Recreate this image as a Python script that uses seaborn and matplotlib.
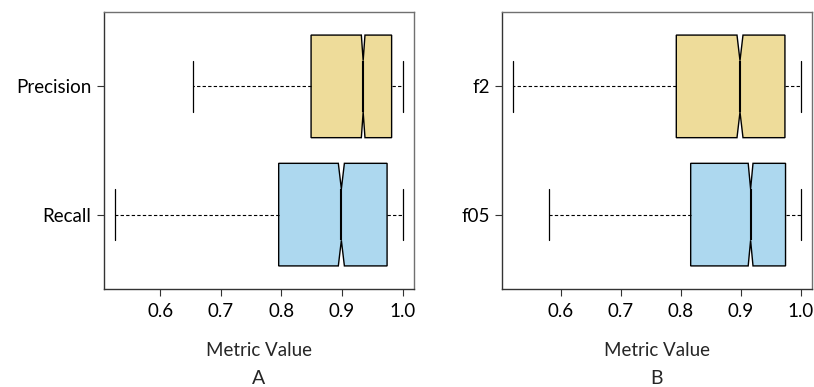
import matplotlib
matplotlib.use("Agg")
import matplotlib.pyplot as plt
import seaborn as sns

# Summary statistics of each metric (bottom box first, top box second)
panel_a_labels = ["Recall", "Precision"]
panel_a_whislo = [0.526, 0.654]
panel_a_q1 = [0.7955, 0.849]
panel_a_med = [0.899, 0.935]
panel_a_q3 = [0.9745, 0.982]
panel_a_whishi = [1.0, 1.0]
panel_a_notch = [0.005, 0.003]

panel_b_labels = ["f05", "f2"]
panel_b_whislo = [0.580, 0.521]
panel_b_q1 = [0.8167, 0.7927]
panel_b_med = [0.9167, 0.899]
panel_b_q3 = [0.975, 0.974]
panel_b_whishi = [1.0, 1.0]
panel_b_notch = [0.004, 0.005]

x_ticks = [0.6, 0.7, 0.8, 0.9, 1.0]
x_tick_labels = ["0.6", "0.7", "0.8", "0.9", "1.0"]
box_colors = ["#ADD8EF", "#EEDC9A"]
panel_titles = ["A", "B"]

sns.set_theme(style="white")
plt.rcParams["font.family"] = ["Lato", "DejaVu Sans"]
plt.rcParams["font.size"] = 13.5

W, H = 814, 387
fig = plt.figure(figsize=(W / 100, H / 100), dpi=100)


def draw_panel(rect, labels, whislo, q1, med, q3, whishi, notch, title):
    ax = fig.add_axes(rect)
    stats = []
    for i in range(len(labels)):
        stats.append(dict(label=labels[i], whislo=whislo[i], q1=q1[i], med=med[i],
                          q3=q3[i], whishi=whishi[i], cilo=med[i] - notch[i],
                          cihi=med[i] + notch[i], fliers=[]))
    positions = list(range(1, len(labels) + 1))
    arts = ax.bxp(stats, positions=positions, widths=0.8, capwidths=0.4,
                  orientation="horizontal", shownotches=True, patch_artist=True,
                  showfliers=False, manage_ticks=False,
                  boxprops=dict(edgecolor="black", linewidth=1.0),
                  medianprops=dict(color="black", linewidth=1.5),
                  whiskerprops=dict(color="black", linewidth=0.8, linestyle=(0, (3, 2))),
                  capprops=dict(color="black", linewidth=0.9))
    for patch, c in zip(arts["boxes"], box_colors):
        patch.set_facecolor(c)

    lo, hi = min(whislo), max(whishi)
    ext = 0.04 * (hi - lo)
    ax.set_xlim(lo - ext, hi + ext)
    ax.set_ylim(0.42, len(labels) + 0.58)
    ax.set_xticks(x_ticks)
    ax.set_xticklabels(x_tick_labels)
    ax.set_yticks(positions)
    ax.set_yticklabels(labels)
    ax.tick_params(axis="both", which="major", length=5, width=0.8, color="#333333",
                   direction="out", labelsize=13.5, labelcolor="black",
                   bottom=True, left=True)
    ax.tick_params(axis="x", pad=5)
    ax.tick_params(axis="y", pad=4)
    for side in ["top", "right"]:
        ax.spines[side].set_color("#707070")
        ax.spines[side].set_linewidth(1.0)
    for side in ["left", "bottom"]:
        ax.spines[side].set_color("#333333")
        ax.spines[side].set_linewidth(1.0)
    ax.set_xlabel("Metric Value", fontsize=13.5, labelpad=16)
    bb = ax.get_position()
    fig.text(bb.x0 + bb.width / 2, 1 - 378 / H, title, ha="center", va="center",
             fontsize=14)
    return ax


draw_panel([104 / W, 1 - 289 / H, 310 / W, 277 / H], panel_a_labels, panel_a_whislo,
           panel_a_q1, panel_a_med, panel_a_q3, panel_a_whishi, panel_a_notch,
           panel_titles[0])
draw_panel([502 / W, 1 - 289 / H, 310 / W, 277 / H], panel_b_labels, panel_b_whislo,
           panel_b_q1, panel_b_med, panel_b_q3, panel_b_whishi, panel_b_notch,
           panel_titles[1])

fig.savefig("out.png", dpi=100)
